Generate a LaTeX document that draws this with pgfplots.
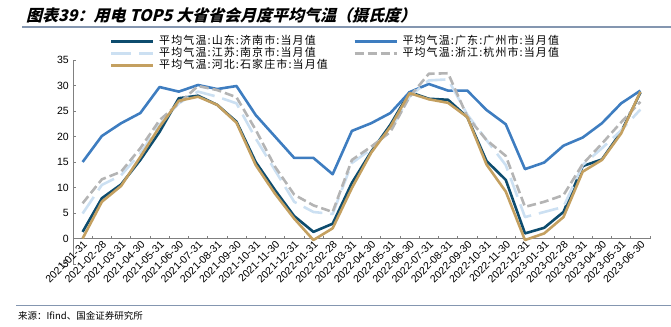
\documentclass[border=0pt]{standalone}
\usepackage{fontspec}
\usepackage{pgfplots}
\pgfplotsset{compat=1.18}
\setmainfont{Liberation Sans}
\newfontfamily\cjk{Noto Sans CJK SC}
\newfontfamily\cjkleg[LetterSpace=10]{Noto Sans CJK SC}
\newfontfamily\cjktitle[FakeSlant=0.25]{Noto Sans CJK SC}
\definecolor{cJN}{RGB}{13,76,110}
\definecolor{cGZ}{RGB}{62,125,192}
\definecolor{cNJ}{RGB}{204,224,242}
\definecolor{cHZ}{RGB}{180,180,180}
\definecolor{cSJZ}{RGB}{196,160,96}
\definecolor{axisgray}{RGB}{128,128,128}
\definecolor{ruleline}{RGB}{132,150,176}
\begin{document}
\begin{tikzpicture}[x=1bp,y=1bp]
\useasboundingbox (0,0) rectangle (671,326);
\node[anchor=west, inner sep=0] at (26,311) {\cjktitle\bfseries\fontsize{16bp}{18bp}\selectfont 图表39：用电 TOP5 大省省会月度平均气温（摄氏度）};
\draw[color=ruleline, line width=1bp] (22,299) -- (671,299);
\draw[color=ruleline, line width=1bp] (16,21) -- (671,21);
\node[anchor=west, inner sep=0] at (18,10) {\cjk\fontsize{9.5bp}{11bp}\selectfont 来源：Ifind、国金证券研究所};
\begin{axis}[
  at={(73bp,62bp)}, anchor=south west,
  scale only axis, width=577bp, height=204bp,
  xmin=-0.5, xmax=29.5, ymin=-5, ymax=35,
  axis y line=left, axis x line=middle,
  axis line style={draw=axisgray, line width=0.6bp, -},
  tick align=inside,
  ytick={-5,0,5,10,15,20,25,30,35},
  xtick={0,...,29},
  xticklabels={2021-01-31,2021-02-28,2021-03-31,2021-04-30,2021-05-31,2021-06-30,2021-07-31,2021-08-31,2021-09-30,2021-10-31,2021-11-30,2021-12-31,2022-01-31,2022-02-28,2022-03-31,2022-04-30,2022-05-31,2022-06-30,2022-07-31,2022-08-31,2022-09-30,2022-10-31,2022-11-30,2022-12-31,2023-01-31,2023-02-28,2023-03-31,2023-04-30,2023-05-31,2023-06-30},
  minor xtick={-0.5,0.5,...,29.5},
  major x tick style={draw=none},
  minor x tick style={draw=axisgray, line width=0.6bp},
  major y tick style={draw=axisgray, line width=0.6bp},
  major tick length=3bp, minor tick length=3bp,
  hide obscured x ticks=false,
  /pgf/number format/assume math mode=true,
  yticklabel style={font=\fontsize{10.5bp}{12bp}\selectfont, inner sep=1bp, xshift=-3bp},
  xticklabel style={font=\fontsize{10.5bp}{12bp}\selectfont, rotate=45, anchor=north east, inner sep=1bp},
  clip=false,
  legend columns=2,
  legend cell align=left,
  legend image code/.code={\draw[#1] (0bp,0bp) -- (42bp,0bp);},
  legend style={at={(0.064,1.1225)}, anchor=north west, draw=none, fill=none,
    font=\cjkleg\fontsize{11bp}{12bp}\selectfont, inner sep=0pt, row sep=0pt,
    nodes={inner sep=0.5bp, text height=8.5bp, text depth=2.5bp},
    /tikz/every odd column/.append style={column sep=4bp},
    /tikz/every even column/.append style={column sep=25bp}},
  every axis plot/.append style={line width=2.6bp, line join=round},
]
\addplot[cJN, mark=none] coordinates {(0,1.3)(1,7.9)(2,10.6)(3,15.4)(4,20.9)(5,27.5)(6,28.0)(7,26.2)(8,22.9)(9,15.0)(10,9.5)(11,4.4)(12,1.3)(13,2.9)(14,10.9)(15,17.0)(16,22.3)(17,28.7)(18,27.4)(19,27.2)(20,23.8)(21,15.2)(22,11.5)(23,1.0)(24,2.1)(25,5.2)(26,14.2)(27,15.5)(28,20.9)(29,28.6)};
\addlegendentry{平均气温:山东:济南市:当月值}
\addplot[cGZ, mark=none] coordinates {(0,15.0)(1,20.1)(2,22.6)(3,24.6)(4,29.7)(5,28.8)(6,30.1)(7,29.3)(8,29.9)(9,24.2)(10,20.0)(11,15.8)(12,15.8)(13,12.6)(14,21.1)(15,22.6)(16,24.6)(17,28.7)(18,30.3)(19,29.0)(20,29.0)(21,25.2)(22,22.4)(23,13.6)(24,14.9)(25,18.2)(26,19.8)(27,22.6)(28,26.5)(29,29.0)};
\addlegendentry{平均气温:广东:广州市:当月值}
\addplot[cNJ, mark=none, dash pattern=on 20bp off 8bp] coordinates {(0,4.9)(1,10.5)(2,12.4)(3,16.7)(4,22.3)(5,26.5)(6,28.8)(7,27.8)(8,26.5)(9,19.6)(10,13.4)(11,7.2)(12,5.2)(13,4.8)(14,14.8)(15,17.5)(16,21.3)(17,27.8)(18,31.0)(19,31.2)(20,24.3)(21,19.3)(22,14.4)(23,4.2)(24,5.2)(25,6.2)(26,14.4)(27,17.7)(28,21.2)(29,25.3)};
\addlegendentry{平均气温:江苏:南京市:当月值}
\addplot[cHZ, mark=none, dash pattern=on 9bp off 4bp] coordinates {(0,6.9)(1,11.6)(2,13.1)(3,17.7)(4,23.2)(5,26.5)(6,29.9)(7,29.1)(8,27.7)(9,21.3)(10,14.1)(11,8.6)(12,6.5)(13,5.2)(14,15.4)(15,18.0)(16,20.9)(17,27.8)(18,32.3)(19,32.4)(20,23.9)(21,19.3)(22,16.2)(23,6.2)(24,7.2)(25,8.5)(26,14.6)(27,18.6)(28,22.8)(29,26.8)};
\addlegendentry{平均气温:浙江:杭州市:当月值}
\addplot[cSJZ, mark=none] coordinates {(0,0.0)(1,7.2)(2,10.3)(3,16.0)(4,21.9)(5,27.0)(6,27.8)(7,26.2)(8,22.7)(9,14.4)(10,8.8)(11,3.9)(12,-0.3)(13,2.0)(14,9.9)(15,16.8)(16,21.9)(17,28.5)(18,27.3)(19,26.6)(20,23.8)(21,14.5)(22,9.2)(23,-0.3)(24,1.0)(25,4.2)(26,13.1)(27,15.4)(28,20.6)(29,28.8)};
\addlegendentry{平均气温:河北:石家庄市:当月值}
\end{axis}
\end{tikzpicture}
\end{document}
